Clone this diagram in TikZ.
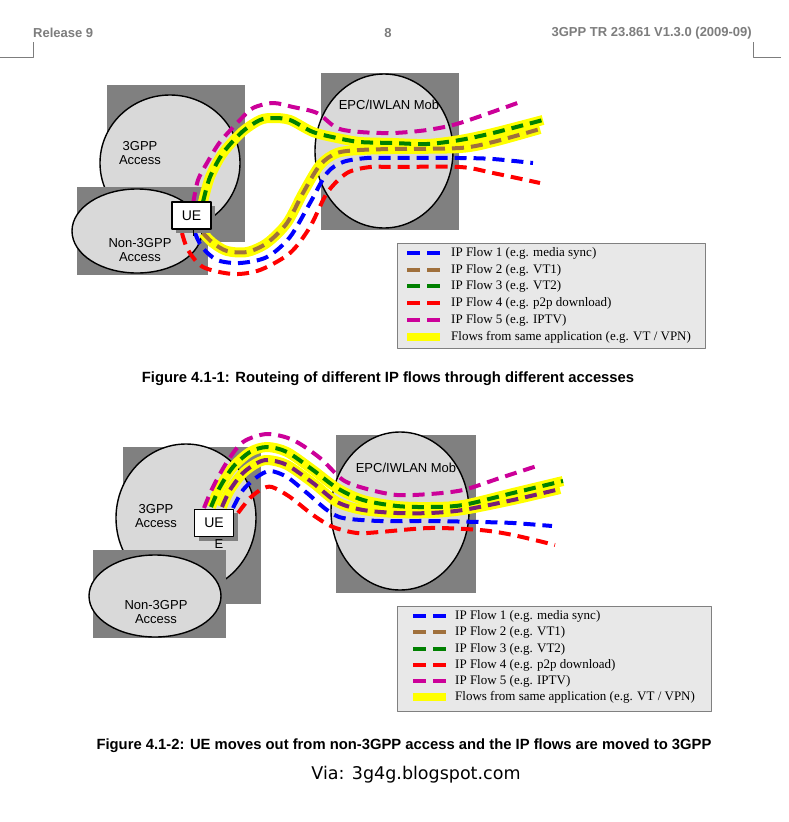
\documentclass[tikz,border=0pt]{standalone}
\usepackage{fontspec}
\setmainfont{Liberation Sans}
\newfontfamily\legendfont{Liberation Serif}
\newfontfamily\viafont{DejaVu Sans}
\definecolor{boxgray}{RGB}{128,128,128}
\definecolor{cloudgray}{RGB}{217,217,217}
\definecolor{legendgray}{RGB}{232,232,232}
\definecolor{hdrgray}{RGB}{125,125,125}
\definecolor{flowblue}{RGB}{0,0,255}
\definecolor{flowbrown}{RGB}{160,112,60}
\definecolor{flowgreen}{RGB}{0,128,0}
\definecolor{flowred}{RGB}{255,0,0}
\definecolor{flowmagenta}{RGB}{204,0,153}
\definecolor{flowpurple}{RGB}{120,30,120}
\definecolor{appyellow}{RGB}{255,255,0}
\begin{document}
\begin{tikzpicture}[x=1pt, y=-1pt, line join=round, >=stealth,
	flow/.style={line width=4pt, dash pattern=on 12pt off 7pt},
	app/.style={line width=10pt, appyellow},
	back/.style={fill=boxgray},
	cloud/.style={fill=cloudgray, draw=black, line width=1.4pt},
	uebox/.style={draw=black, fill=white, line width=1.4pt, minimum width=39pt, minimum height=27pt, inner sep=0pt, font=\fontsize{14}{16}\selectfont},
	lbl/.style={font=\fontsize{13}{14}\selectfont, align=center, inner sep=0pt},
	legtext/.style={anchor=west, inner sep=0pt, font=\legendfont\fontsize{13}{14}\selectfont},
	legsample/.style={line width=4pt, dash pattern=on 13pt off 7pt},
	hdr/.style={inner sep=0pt, text=hdrgray, font=\bfseries\fontsize{13}{15}\selectfont},
	caption/.style={inner sep=0pt, font=\bfseries\fontsize{14.8}{17}\selectfont}]
	\useasboundingbox[fill=white] (0,0) rectangle (788,822);
	
	\node[hdr, anchor=west] (release) at (33,33) {Release 9};
	\node[hdr] (pageno) at (388,33) {8};
	\node[hdr, anchor=east] (specno) at (752,33) {3GPP TR 23.861 V1.3.0 (2009-09)};
	\draw[hdrgray, line width=0.8pt] (33,42) -- (33,57) -- (0,57);
	\draw[hdrgray, line width=0.8pt] (753,42) -- (753,57) -- (781,57);
	
	% Figure 4.1-1
	\fill[back] (107,85) rectangle (245,242);
	\draw[cloud] (170,163) ellipse [x radius=70, y radius=68];
	\node[lbl] (tgpp) at (140,153) {3GPP\\Access};
	\fill[back] (77,187) rectangle (208,275);
	\draw[cloud] (137,231) ellipse [x radius=65, y radius=42];
	\node[lbl] (ntgpp) at (140,250) {Non-3GPP\\Access};
	\fill[back] (321,73) rectangle (459,230);
	\draw[cloud] (384,151) ellipse [x radius=69, y radius=77];
	\node[lbl] (epc) at (389,105) {EPC/IWLAN Mob};
	
	\draw[app] plot[smooth] coordinates {(203,202) (210,177) (223,153) (242,132) (260,120) (273,118) (290,120) (313,132) (337,138) (360,142) (393,143) (427,144) (460,140) (493,133) (543,120)};
	\draw[app] plot[smooth] coordinates {(203,233) (213,243) (227,251) (247,252) (267,243) (287,223) (303,193) (320,165) (337,153) (360,150) (393,149) (460,148) (493,142) (540,129)};
	\draw[flow, flowmagenta] plot[smooth] coordinates {(193,204) (198,180) (207,163) (220,142) (240,120) (253,108) (273,103) (293,107) (317,113) (337,128) (360,132) (393,133) (427,130) (460,123) (523,101)};
	\draw[flow, flowgreen] plot[smooth] coordinates {(203,202) (210,177) (223,153) (242,132) (260,120) (273,118) (290,120) (313,132) (337,138) (360,142) (393,143) (427,144) (460,140) (493,133) (543,120)};
	\draw[flow, flowbrown] plot[smooth] coordinates {(203,233) (213,243) (227,251) (247,252) (267,243) (287,223) (303,193) (320,165) (337,153) (360,150) (393,149) (460,148) (493,142) (540,129)};
	\draw[flow, flowblue] plot[smooth] coordinates {(195,233) (202,247) (217,260) (240,263) (267,257) (290,237) (310,203) (327,173) (343,162) (367,158) (393,158) (460,158) (493,159) (533,163)};
	\draw[flow, flowred] plot[smooth] coordinates {(182,233) (188,250) (203,267) (233,274) (260,270) (290,253) (310,227) (327,193) (347,173) (370,167) (393,167) (460,167) (493,173) (540,183)};
	
	\fill[back] (176,206) rectangle (215,233);
	\node[uebox] (ueA) at (191.5,215.5) {UE};
	\draw[line width=1pt] (ueA.south) ++(2,0) coordinate (tickA) -- ++(0,6);
	
	\draw[fill=legendgray, draw=boxgray, line width=1pt] (397,243) rectangle (705,348);
	\draw[legsample, flowblue] (407,253) -- (440,253);
	\node[legtext] (legA1) at (451,253) {IP Flow 1 (e.g. media sync)};
	\draw[legsample, flowbrown] (407,270) -- (440,270);
	\node[legtext] (legA2) at (451,270) {IP Flow 2 (e.g. VT1)};
	\draw[legsample, flowgreen] (407,286) -- (440,286);
	\node[legtext] (legA3) at (451,286) {IP Flow 3 (e.g. VT2)};
	\draw[legsample, flowred] (407,303) -- (440,303);
	\node[legtext] (legA4) at (451,303) {IP Flow 4 (e.g. p2p download)};
	\draw[legsample, flowmagenta] (407,320) -- (440,320);
	\node[legtext] (legA5) at (451,320) {IP Flow 5 (e.g. IPTV)};
	\draw[appyellow, line width=8pt] (407,337) -- (440,337);
	\node[legtext] (legA6) at (451,337) {Flows from same application (e.g. VT / VPN)};
	
	\node[caption] (capA) at (388,379) {Figure 4.1-1: Routeing of different IP flows through different accesses};
	
	% Figure 4.1-2
	\fill[back] (123,447) rectangle (261,604);
	\draw[cloud] (186,518) ellipse [x radius=70, y radius=74];
	\node[lbl] (tgppB) at (156,516) {3GPP\\Access};
	\fill[back] (93,550) rectangle (226,638);
	\draw[cloud] (155,596) ellipse [x radius=66, y radius=41];
	\node[lbl] (ntgppB) at (156,612) {Non-3GPP\\Access};
	\fill[back] (336,435) rectangle (476,593);
	\draw[cloud] (400,511) ellipse [x radius=69, y radius=79];
	\node[lbl] (epcB) at (406,468) {EPC/IWLAN Mob};
	
	\draw[app] plot[smooth] coordinates {(211,507) (220,487) (233,467) (250,452) (267,447) (287,452) (313,470) (337,488) (363,500) (397,506) (430,507) (463,505) (513,493) (563,481)};
	\draw[app] plot[smooth] coordinates {(222,507) (230,490) (243,473) (257,463) (268,460) (287,465) (313,483) (337,502) (363,510) (397,513) (430,513) (463,510) (513,500) (560,489)};
	\draw[flow, flowmagenta] plot[smooth] coordinates {(204,508) (213,487) (227,462) (243,442) (267,434) (293,440) (320,458) (343,480) (367,489) (397,495) (430,494) (463,490) (500,478) (540,465)};
	\draw[flow, flowgreen] plot[smooth] coordinates {(211,507) (220,487) (233,467) (250,452) (267,447) (287,452) (313,470) (337,488) (363,500) (397,506) (430,507) (463,505) (513,493) (563,481)};
	\draw[flow, flowpurple] plot[smooth] coordinates {(222,507) (230,490) (243,473) (257,463) (268,460) (287,465) (313,483) (337,502) (363,510) (397,513) (430,513) (463,510) (513,500) (560,489)};
	\draw[flow, flowblue] plot[smooth] coordinates {(233,508) (243,490) (257,477) (270,471) (287,477) (307,493) (327,510) (343,518) (380,521) (430,521) (480,522) (513,523) (552,526)};
	\draw[flow, flowred] plot[smooth] coordinates {(238,513) (250,498) (262,489) (272,487) (290,497) (313,515) (333,527) (357,533) (380,532) (430,528) (480,530) (513,535) (555,545)};
	
	\fill[back] (199,513) rectangle (238,541);
	\node[uebox] (ueB) at (214,523) {UE};
	\node[lbl] (ueBtail) at (219,544) {E};
	
	\draw[fill=legendgray, draw=boxgray, line width=1pt] (397,606) rectangle (711,711);
	\draw[legsample, flowblue] (413,616) -- (446,616);
	\node[legtext] (legB1) at (455,616) {IP Flow 1 (e.g. media sync)};
	\draw[legsample, flowbrown] (413,632) -- (446,632);
	\node[legtext] (legB2) at (455,632) {IP Flow 2 (e.g. VT1)};
	\draw[legsample, flowgreen] (413,649) -- (446,649);
	\node[legtext] (legB3) at (455,649) {IP Flow 3 (e.g. VT2)};
	\draw[legsample, flowred] (413,665) -- (446,665);
	\node[legtext] (legB4) at (455,665) {IP Flow 4 (e.g. p2p download)};
	\draw[legsample, flowmagenta] (413,681) -- (446,681);
	\node[legtext] (legB5) at (455,681) {IP Flow 5 (e.g. IPTV)};
	\draw[appyellow, line width=8pt] (413,697) -- (446,697);
	\node[legtext] (legB6) at (455,697) {Flows from same application (e.g. VT / VPN)};
	
	\node[caption] (capB) at (404,746) {Figure 4.1-2: UE moves out from non-3GPP access and the IP flows are moved to 3GPP};
	\node[inner sep=0pt, font=\viafont\fontsize{17.5}{20}\selectfont] (via) at (416,775) {Via: 3g4g.blogspot.com};
\end{tikzpicture}
\end{document}
